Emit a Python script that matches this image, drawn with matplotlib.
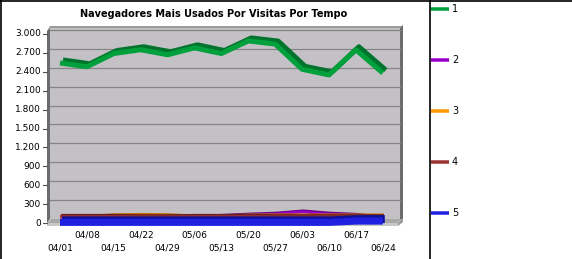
import matplotlib
matplotlib.use("Agg")
import matplotlib.pyplot as plt
import matplotlib.transforms as mtransforms
from matplotlib.patches import Polygon
from matplotlib.lines import Line2D

# ---------------- data ----------------
dates = ["04/01", "04/08", "04/15", "04/22", "04/29", "05/06", "05/13",
         "05/20", "05/27", "06/03", "06/10", "06/17", "06/24"]
series_names = ["1", "2", "3", "4", "5"]
s1 = [2540, 2480, 2690, 2750, 2670, 2780, 2690, 2890, 2840, 2440, 2350, 2750, 2380]
s2 = [60, 60, 60, 60, 70, 90, 105, 125, 140, 175, 140, 120, 80]
s3 = [90, 90, 115, 120, 115, 95, 95, 112, 112, 112, 112, 112, 112]
s4 = [105, 105, 105, 100, 100, 105, 105, 105, 100, 100, 100, 100, 100]
s5 = [10, 10, 10, 10, 10, 10, 10, 10, 10, 10, 10, 30, 30]
yticks = [0, 300, 600, 900, 1200, 1500, 1800, 2100, 2400, 2700, 3000]
ytick_labels = ["0", "300", "600", "900", "1.200", "1.500", "1.800",
                "2.100", "2.400", "2.700", "3.000"]
title = "Navegadores Mais Usados Por Visitas Por Tempo"

colors_light = ["#00a03c", "#9900cc", "#ff9900", "#993333", "#2020e0"]
colors_dark = ["#00742c", "#6a008c", "#c06a00", "#6a2020", "#10109a"]

W, H = 572, 259
fig = plt.figure(figsize=(W / 100, H / 100), dpi=100)
fig.patch.set_facecolor("white")

# pixel (top-left origin) transform
T = mtransforms.Affine2D().scale(1, -1).translate(0, H)

# axes placement in pixels
axL, axR, axTop, axBot = 47, 404, 24, 227
ax = fig.add_axes([axL / W, (H - axBot) / H, (axR - axL) / W, (axBot - axTop) / H])
ax.set_axis_off()
x0px, dxpx = 60.0, 26.9
y0px, pxper = 223.0, 189.0 / 3000.0
ax.set_xlim((axL - x0px) / dxpx, (axR - x0px) / dxpx)
ax.set_ylim((y0px - axBot) / pxper, (y0px - axTop) / pxper)
weeks = list(range(len(dates)))

def poly(pts, color, z):
    p = Polygon(pts, closed=True, facecolor=color, edgecolor="none",
                transform=T, zorder=z, clip_on=False)
    ax.add_patch(p)

# 3D box
poly([(50, 28), (400, 28), (400, 219), (50, 219)], "#c3c1c5", 0)      # back wall
poly([(47, 31), (50, 26), (403, 26), (400, 28), (50, 28)], "#9a9a9a", 0.5)  # top edge
poly([(47, 31), (50, 28), (50, 219), (47, 223)], "#6c6c6c", 0.5)      # left wall
poly([(400, 28), (403, 25), (403, 219), (400, 222)], "#6c6c6c", 0.5)  # right wall
poly([(47, 223), (51, 219), (403, 219), (398, 223)], "#a8a8a8", 0.5)  # floor top
poly([(47, 223), (398, 223), (398, 226), (47, 226)], "#c8c8c8", 0.5)  # floor front
poly([(398, 223), (403, 219), (403, 222), (398, 226)], "#9a9a9a", 0.5)

# gridlines on back wall (shifted by depth)
grid_off = 4 / pxper
for v in yticks[1:]:
    ax.plot([(50 - x0px) / dxpx, (400 - x0px) / dxpx], [v + grid_off, v + grid_off],
            color="#858585", lw=0.9, zorder=1, clip_on=False)

# y tick labels and tick marks
for v, lab in zip(yticks, ytick_labels):
    ax.plot([(43 - x0px) / dxpx, (47 - x0px) / dxpx], [v, v], color="#505050",
            lw=0.8, zorder=2, clip_on=False)
    ax.text((41 - x0px) / dxpx, v, lab, ha="right", va="center", fontsize=6.5,
            color="black", clip_on=False)

# x tick labels, alternating rows
blend = mtransforms.blended_transform_factory(ax.transData, T)
for i, d in enumerate(dates):
    ypx = 248 if i % 2 == 0 else 235
    ax.text(i, ypx, d, transform=blend, ha="center", va="center", fontsize=6.5,
            color="black", clip_on=False)

px = 0.72  # points per pixel
def offset(dx, dy):
    return ax.transData + mtransforms.ScaledTranslation(dx / 100, dy / 100, fig.dpi_scale_trans)

# lower series (back to front)
low = [(s2, 1), (s3, 2), (s4, 3)]
for vals, k in low:
    ax.plot(weeks, vals, color=colors_dark[k], lw=3 * px, zorder=3 + k * 0.1,
            solid_capstyle="butt", transform=offset(1, 1), clip_on=False)
    ax.plot(weeks, vals, color=colors_light[k], lw=2.5 * px, zorder=3 + k * 0.1 + 0.05,
            solid_capstyle="butt", clip_on=False)
ax.plot(weeks, s5, color=colors_dark[4], lw=8 * px, zorder=4,
        solid_capstyle="butt", transform=offset(2, 2), clip_on=False)
ax.plot(weeks, s5, color=colors_light[4], lw=7 * px, zorder=4.1,
        solid_capstyle="butt", clip_on=False)

# main series (green ribbon)
ax.plot(weeks, s1, color=colors_dark[0], lw=5 * px, zorder=5,
        solid_capstyle="butt", solid_joinstyle="round", transform=offset(3, 3), clip_on=False)
ax.plot(weeks, s1, color=colors_light[0], lw=5 * px, zorder=5.1,
        solid_capstyle="butt", solid_joinstyle="round", clip_on=False)

# title
fig.text(214 / W, 1 - 14 / H, title, ha="center", va="center", fontsize=7.0,
         fontweight="bold", color="black")

# borders
fig.add_artist(Line2D([0, W], [0.5, 0.5], transform=T, color="black", lw=1.2))
fig.add_artist(Line2D([0.5, 0.5], [0, H], transform=T, color="black", lw=1.2))
fig.add_artist(Line2D([429.5, 429.5], [0, H], transform=T, color="black", lw=1.2))

# legend
for k, name in enumerate(series_names):
    ypx = 9 + 51 * k
    fig.add_artist(Line2D([431, 449], [ypx, ypx], transform=T, color=colors_light[k],
                          lw=3.5 * px, solid_capstyle="butt"))
    fig.text(452 / W, 1 - ypx / H, name, ha="left", va="center", fontsize=7, color="black")

fig.savefig("out.png", dpi=100)
